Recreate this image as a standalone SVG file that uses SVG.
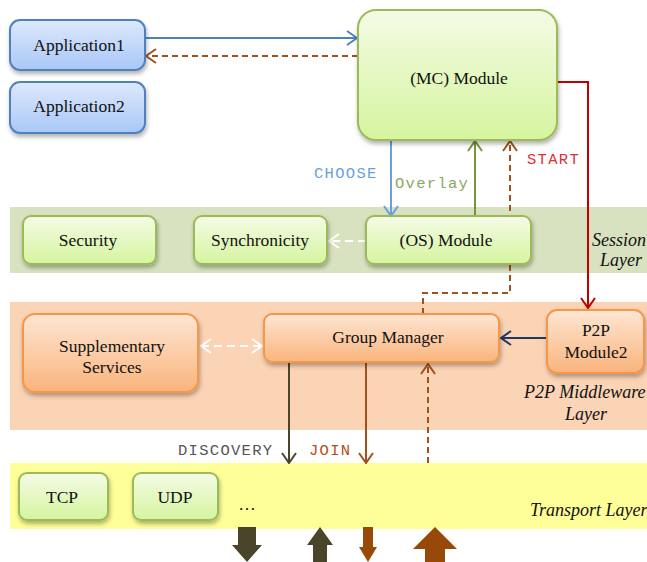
<svg xmlns="http://www.w3.org/2000/svg" width="647" height="562" viewBox="0 0 647 562">
<defs>
<linearGradient id="gBlue" x1="0" y1="0" x2="0" y2="1"><stop offset="0" stop-color="#dde9fc"/><stop offset="1" stop-color="#a9c7f7"/></linearGradient>
<linearGradient id="gGreen" x1="0" y1="0" x2="0" y2="1"><stop offset="0" stop-color="#f4fbe6"/><stop offset="1" stop-color="#d5f59e"/></linearGradient>
<linearGradient id="gOrange" x1="0" y1="0" x2="0" y2="1"><stop offset="0" stop-color="#fde6d4"/><stop offset="1" stop-color="#fab47c"/></linearGradient>
<filter id="sh" x="-10%" y="-10%" width="130%" height="140%"><feDropShadow dx="1" dy="3" stdDeviation="2" flood-color="#000" flood-opacity="0.3"/></filter>
<marker id="aBlue" viewBox="0 0 12 16" refX="11" refY="8" markerWidth="12" markerHeight="16" markerUnits="userSpaceOnUse" orient="auto"><path d="M1,1 L11,8 L1,15" fill="none" stroke="#4f81bd" stroke-width="2"/></marker>
<marker id="aBrown" viewBox="0 0 12 16" refX="11" refY="8" markerWidth="12" markerHeight="16" markerUnits="userSpaceOnUse" orient="auto"><path d="M1,1 L11,8 L1,15" fill="none" stroke="#a0521a" stroke-width="2"/></marker>
<marker id="aLBlue" viewBox="0 0 12 16" refX="11" refY="8" markerWidth="12" markerHeight="16" markerUnits="userSpaceOnUse" orient="auto"><path d="M1,1 L11,8 L1,15" fill="none" stroke="#6a9fdc" stroke-width="2"/></marker>
<marker id="aGreen" viewBox="0 0 12 16" refX="11" refY="8" markerWidth="12" markerHeight="16" markerUnits="userSpaceOnUse" orient="auto"><path d="M1,1 L11,8 L1,15" fill="none" stroke="#77933c" stroke-width="2"/></marker>
<marker id="aRed" viewBox="0 0 12 16" refX="11" refY="8" markerWidth="12" markerHeight="16" markerUnits="userSpaceOnUse" orient="auto"><path d="M1,1 L11,8 L1,15" fill="none" stroke="#c00000" stroke-width="2"/></marker>
<marker id="aNavy" viewBox="0 0 12 16" refX="11" refY="8" markerWidth="12" markerHeight="16" markerUnits="userSpaceOnUse" orient="auto"><path d="M1,1 L11,8 L1,15" fill="none" stroke="#1f3864" stroke-width="2"/></marker>
<marker id="aWhite" viewBox="0 0 12 16" refX="11" refY="8" markerWidth="12" markerHeight="16" markerUnits="userSpaceOnUse" orient="auto"><path d="M1,1 L11,8 L1,15" fill="none" stroke="#ffffff" stroke-width="2"/></marker>
<marker id="aWhiteS" viewBox="0 0 12 16" refX="1" refY="8" markerWidth="12" markerHeight="16" markerUnits="userSpaceOnUse" orient="auto"><path d="M11,1 L1,8 L11,15" fill="none" stroke="#ffffff" stroke-width="2"/></marker>
<marker id="aOlive" viewBox="0 0 12 16" refX="11" refY="8" markerWidth="12" markerHeight="16" markerUnits="userSpaceOnUse" orient="auto"><path d="M1,1 L11,8 L1,15" fill="none" stroke="#4a452a" stroke-width="2"/></marker>
</defs>
<style>
.t{font-family:"Liberation Serif","DejaVu Serif",serif;font-size:17.5px;fill:#111;text-anchor:middle}
.it{font-family:"Liberation Serif","DejaVu Serif",serif;font-size:18px;font-style:italic;fill:#111}
.m{font-family:"Liberation Mono","Courier New",monospace;font-size:15.5px;letter-spacing:1.3px}
.blue{fill:url(#gBlue);stroke:#4f81bd;stroke-width:2;filter:url(#sh)}
.green{fill:url(#gGreen);stroke:#9bbb59;stroke-width:2;filter:url(#sh)}
.orange{fill:url(#gOrange);stroke:#f79646;stroke-width:2;filter:url(#sh)}
.c{fill:none;stroke-width:2}
</style>
<rect width="647" height="562" fill="#ffffff"/>
<g id="layers">
<rect x="10" y="207" width="637" height="66" fill="#d8e2c0"/>
<rect x="10" y="302" width="637" height="128" fill="#fbd3b5"/>
<rect x="10" y="463" width="637" height="66" fill="#ffff99"/>
<text class="it" x="592" y="246">Session</text>
<text class="it" x="600" y="266">Layer</text>
<text class="it" x="524" y="398">P2P Middleware</text>
<text class="it" x="565" y="420">Layer</text>
<text class="it" x="530" y="516">Transport Layer</text>
<text class="t" x="247" y="510">…</text>
</g>
<g id="connectors">
<line class="c" x1="145" y1="38" x2="357" y2="38" stroke="#4f81bd" marker-end="url(#aBlue)"/>
<line class="c" x1="358" y1="56" x2="146" y2="56" stroke="#a0521a" stroke-dasharray="6,4" marker-end="url(#aBrown)"/>
<line class="c" x1="391" y1="140" x2="391" y2="216" stroke="#6a9fdc" marker-end="url(#aLBlue)"/>
<line class="c" x1="475" y1="216" x2="475" y2="141" stroke="#77933c" marker-end="url(#aGreen)"/>
<polyline class="c" points="423,314 423,293 510,293 510,141" stroke="#a0521a" stroke-dasharray="6,4" marker-end="url(#aBrown)"/>
<polyline class="c" points="557,82 588,82 588,308" stroke="#c00000" marker-end="url(#aRed)"/>
<line class="c" x1="366" y1="241" x2="329" y2="241" stroke="#ffffff" stroke-dasharray="8,5" marker-end="url(#aWhite)"/>
<line class="c" x1="201" y1="346" x2="262" y2="346" stroke="#ffffff" stroke-dasharray="8,5" marker-start="url(#aWhiteS)" marker-end="url(#aWhite)"/>
<line class="c" x1="547" y1="338" x2="501" y2="338" stroke="#1f3864" marker-end="url(#aNavy)"/>
<line class="c" x1="289" y1="362" x2="289" y2="463" stroke="#4a452a" marker-end="url(#aOlive)"/>
<line class="c" x1="366" y1="362" x2="366" y2="463" stroke="#a0521a" marker-end="url(#aBrown)"/>
<line class="c" x1="428" y1="463" x2="428" y2="364" stroke="#a0521a" stroke-dasharray="6,4" marker-end="url(#aBrown)"/>
<text class="m" x="314" y="178" fill="#6a9fdc">CHOOSE</text>
<text class="m" x="395" y="188" fill="#8aa860">Overlay</text>
<text class="m" x="527" y="164" fill="#e03030">START</text>
<text class="m" x="178" y="455" fill="#555555">DISCOVERY</text>
<text class="m" x="309" y="455" fill="#b05020">JOIN</text>
<polygon points="238,527 256,527 256,545 262,545 247,562 232,545 238,545" fill="#4a452a"/>
<polygon points="313,562 327,562 327,545 333,545 320,527 307,545 313,545" fill="#4a452a"/>
<polygon points="363,527 373,527 373,547 377,547 368,562 359,547 363,547" fill="#984807"/>
<polygon points="425,562 445,562 445,549 457,549 435,527 413,549 425,549" fill="#984807"/>
</g>
<g id="app1"><rect class="blue" x="10" y="20" width="135" height="50" rx="10"/><text class="t" x="79" y="51">Application1</text></g>
<g id="app2"><rect class="blue" x="10" y="82" width="135" height="51" rx="10"/><text class="t" x="79" y="112">Application2</text></g>
<g id="mc"><rect class="green" x="358" y="10" width="199" height="130" rx="18"/><text class="t" x="459" y="84">(MC) Module</text></g>
<g id="security"><rect class="green" x="23" y="216" width="133" height="48" rx="8"/><text class="t" x="88" y="246">Security</text></g>
<g id="sync"><rect class="green" x="194" y="216" width="133" height="48" rx="8"/><text class="t" x="260" y="246">Synchronicity</text></g>
<g id="os"><rect class="green" x="366" y="216" width="165" height="48" rx="8"/><text class="t" x="446" y="246">(OS) Module</text></g>
<g id="supp"><rect class="orange" x="23" y="314" width="175" height="78" rx="12"/><text class="t" x="112" y="352">Supplementary</text><text class="t" x="112" y="373">Services</text></g>
<g id="gm"><rect class="orange" x="264" y="314" width="235" height="48" rx="8"/><text class="t" x="388" y="343">Group Manager</text></g>
<g id="p2p"><rect class="orange" x="547" y="310" width="97" height="63" rx="10"/><text class="t" x="596" y="336">P2P</text><text class="t" x="596" y="358">Module2</text></g>
<g id="tcp"><rect class="green" x="19" y="473" width="89" height="47" rx="8"/><text class="t" x="62" y="503">TCP</text></g>
<g id="udp"><rect class="green" x="133" y="473" width="85" height="47" rx="8"/><text class="t" x="175" y="503">UDP</text></g>
</svg>
